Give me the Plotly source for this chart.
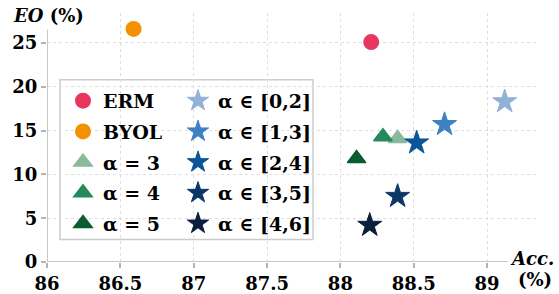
import plotly.graph_objects as go

# ---- data ----
base_names = ["ERM", "BYOL"]
base_acc = [88.21, 86.59]
base_eo = [25.1, 26.6]
base_colors = ["#E8375F", "#F39100"]

tri_names = ["α = 3", "α = 4", "α = 5"]
tri_acc = [88.39, 88.29, 88.11]
tri_eo = [14.1, 14.3, 11.8]
tri_colors = ["#8CB99C", "#238A5C", "#0B5C30"]

star_names = ["α ∈ [0,2]", "α ∈ [1,3]", "α ∈ [2,4]", "α ∈ [3,5]", "α ∈ [4,6]"]
star_acc = [89.12, 88.71, 88.52, 88.39, 88.2]
star_eo = [18.3, 15.7, 13.6, 7.5, 4.2]
star_colors = ["#93B0D6", "#3E81C3", "#0A5599", "#0B3668", "#0A1E3E"]

x_ticks = [86, 86.5, 87, 87.5, 88, 88.5, 89]
x_tick_labels = ["86", "86.5", "87", "87.5", "88", "88.5", "89"]
y_ticks = [0, 5, 10, 15, 20, 25]

FONT = "DejaVu Serif"
W, H = 559, 294
L, R, T, B = 47, 22, 13, 31.5
pw, ph = W - L - R, H - T - B
def px(xp):
    return (xp - L) / pw
def py(yp):
    return (H - B - yp) / ph

fig = go.Figure()
for n, x, y, c in zip(base_names, base_acc, base_eo, base_colors):
    fig.add_trace(go.Scatter(x=[x], y=[y], name=n, mode="markers", legend="legend",
                             legendgroup=n,
                             marker=dict(symbol="circle", size=16, color=c,
                                         line=dict(width=0))))
for n, x, y, c in zip(tri_names, tri_acc, tri_eo, tri_colors):
    fig.add_trace(go.Scatter(x=[x], y=[y], name=n, mode="markers", legend="legend",
                             legendgroup=n,
                             marker=dict(symbol="triangle-up", size=16, color=c,
                                         line=dict(width=1.5, color=c))))
for n, x, y, c in zip(star_names, star_acc, star_eo, star_colors):
    fig.add_trace(go.Scatter(x=[x], y=[y], name=n, mode="markers", legend="legend2",
                             legendgroup=n,
                             marker=dict(symbol="star", size=18, color=c,
                                         line=dict(width=1, color=c))))

axis_common = dict(showline=False, zeroline=False, showgrid=True, automargin=False,
                   gridcolor="#dedede", griddash="dot", gridwidth=1,
                   ticks="outside", ticklen=5, tickcolor="#b4b4b4", tickwidth=1.5,
                   tickfont=dict(family=FONT, size=18, color="black", weight="bold"))

fig.update_xaxes(range=[86, 86 + pw / 146.7], tickvals=x_ticks, ticktext=x_tick_labels,
                 ticklabelstandoff=0, **axis_common)
fig.update_yaxes(range=[0, ph / 8.78], tickvals=y_ticks, **axis_common)

# legend box
fig.add_shape(type="rect", xref="paper", yref="paper",
              x0=px(60), x1=px(313), y0=py(240), y1=py(80),
              fillcolor="white", line=dict(color="#cccccc", width=1.5), layer="between")
# axis lines
fig.add_shape(type="line", xref="x", yref="y", x0=86, x1=89.14, y0=0, y1=0,
              line=dict(color="#b4b4b4", width=1.5))
fig.add_shape(type="line", xref="x", yref="y", x0=86, x1=86, y0=0, y1=26.5,
              line=dict(color="#b4b4b4", width=1.5))

leg_font = dict(family=FONT, size=19, color="black", weight="bold")
fig.update_layout(
    width=W, height=H, margin=dict(l=L, r=R, t=T, b=B, autoexpand=False),
    plot_bgcolor="white", paper_bgcolor="white", showlegend=True,
    font=dict(family=FONT),
    legend=dict(x=px(63), y=py(82), xanchor="left", yanchor="top",
                bgcolor="rgba(0,0,0,0)", font=leg_font, itemsizing="trace",
                tracegroupgap=3),
    legend2=dict(x=px(178), y=py(82), xanchor="left", yanchor="top",
                 bgcolor="rgba(0,0,0,0)", font=leg_font, itemsizing="trace",
                 tracegroupgap=3),
    annotations=[
        dict(text="<b><i>EO</i> (%)</b>", xref="paper", yref="paper", x=px(11), y=py(16),
             xanchor="left", yanchor="middle", showarrow=False,
             font=dict(family=FONT, size=18, color="black")),
        dict(text="<b><i>Acc.</i></b>", xref="paper", yref="paper", x=px(532), y=py(259),
             xanchor="center", yanchor="middle", showarrow=False,
             font=dict(family=FONT, size=18, color="black")),
        dict(text="<b>(%)</b>", xref="paper", yref="paper", x=px(535), y=py(280),
             xanchor="center", yanchor="middle", showarrow=False,
             font=dict(family=FONT, size=18, color="black")),
    ],
)

fig.write_html("out.html", config={"displayModeBar": False},
               post_script="document.body.style.margin='0px';")
